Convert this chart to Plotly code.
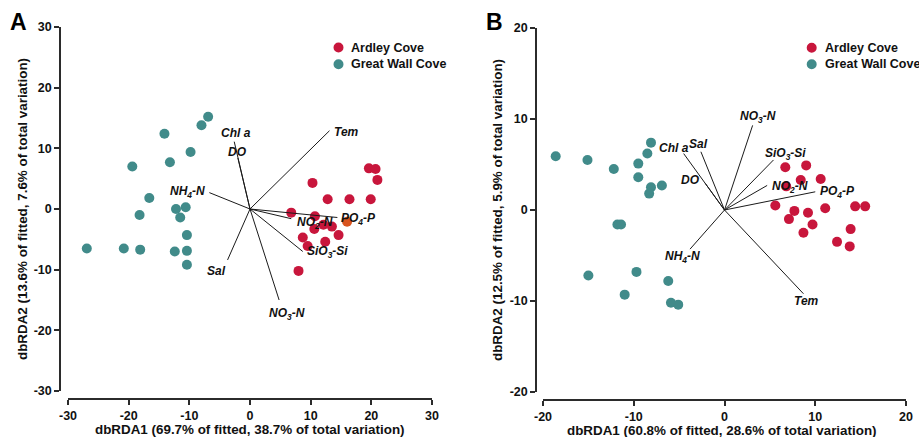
import plotly.graph_objects as go

W, H = 919, 437

# ---------------- data ----------------
series_names = ["Ardley Cove", "Great Wall Cove"]

# Panel A
a_ardley_x = [19.6, 20.7, 21.0, 10.3, 12.8, 16.4, 19.9, 6.8, 10.7, 10.6, 12.1, 13.5, 14.6, 8.7, 12.4, 9.5, 8.0]
a_ardley_y = [6.7, 6.6, 4.8, 4.3, 1.6, 1.6, 1.6, -0.6, -1.2, -3.3, -2.6, -2.9, -4.3, -4.7, -5.4, -6.1, -10.2]
a_extra_x = [16.0]
a_extra_y = [-2.1]
a_gw_x = [-6.9, -8.0, -14.1, -9.8, -13.2, -19.4, -16.6, -12.2, -10.6, -18.2, -11.5, -10.4, -26.9, -20.8, -18.1, -12.4, -10.4, -10.4]
a_gw_y = [15.2, 13.8, 12.4, 9.4, 7.7, 7.0, 1.8, 0.0, 0.3, -1.0, -1.4, -4.3, -6.5, -6.5, -6.7, -7.0, -6.9, -9.2]

a_vec_names = ["Tem", "Chl a", "DO", "NH<sub>4</sub>-N", "PO<sub>4</sub>-P", "NO<sub>2</sub>-N",
               "SiO<sub>3</sub>-Si", "Sal", "NO<sub>3</sub>-N"]
a_vec_x = [13.1, -2.6, -2.0, -6.7, 14.4, 6.8, 8.7, -3.7, 4.8]
a_vec_y = [12.9, 11.1, 8.4, 2.7, -1.4, -1.6, -7.0, -8.4, -15.0]

# Panel B
b_ardley_x = [6.7, 9.0, 8.4, 10.6, 6.8, 5.6, 7.7, 9.2, 11.1, 14.4, 15.5, 7.1, 9.7, 8.7, 13.9, 12.4, 13.8]
b_ardley_y = [4.7, 4.9, 3.3, 3.4, 2.6, 0.5, -0.1, -0.3, 0.2, 0.4, 0.4, -1.0, -1.6, -2.5, -2.1, -3.5, -4.0]
b_gw_x = [-18.6, -15.1, -12.2, -8.1, -8.5, -9.5, -9.5, -6.9, -8.1, -8.3, -11.8, -11.4, -15.0, -9.7, -11.0, -6.2, -5.9, -5.1]
b_gw_y = [5.9, 5.5, 4.5, 7.4, 6.2, 5.1, 3.6, 2.7, 2.5, 1.8, -1.6, -1.6, -7.2, -6.8, -9.3, -7.8, -10.2, -10.4]

b_vec_names = ["NO<sub>3</sub>-N", "Chl a", "Sal", "DO", "SiO<sub>3</sub>-Si", "NO<sub>2</sub>-N",
               "PO<sub>4</sub>-P", "NH<sub>4</sub>-N", "Tem"]
b_vec_x = [3.1, -4.5, -2.6, -2.1, 5.4, 4.7, 10.0, -3.8, 8.7]
b_vec_y = [9.3, 6.2, 6.4, 2.9, 5.5, 2.7, 2.0, -4.3, -9.2]

a_xtitle = "dbRDA1 (69.7% of fitted, 38.7% of total variation)"
a_ytitle = "dbRDA2 (13.6% of fitted, 7.6% of total variation)"
b_xtitle = "dbRDA1 (60.8% of fitted, 28.6% of total variation)"
b_ytitle = "dbRDA2 (12.5% of fitted, 5.9% of total variation)"
a_ticks = [-30, -20, -10, 0, 10, 20, 30]
a_ticklabels = ["-30", "-20", "-10", "0", "10", "20", "30"]
b_ticks = [-20, -10, 0, 10, 20]
b_ticklabels = ["-20", "-10", "0", "10", "20"]

# ---------------- styles ----------------
RED = "#C8163C"
TEAL = "#418B8A"
ORANGE = "#D9541E"
AX = "#2b2b2b"
FONT = "Arial, Liberation Sans, sans-serif"

# label placement (xanchor, xshift, yshift) for each vector label
a_lab = [("left", 3, -1), ("center", 2, 9), ("center", 0, 6), ("right", -2, 1), ("left", 2, -2),
         ("left", 4, -4), ("left", 2, -1), ("right", 0, -11), ("center", 8, -14)]
b_lab = [("center", 5, 8), ("center", -10, 6), ("center", -2, 8), ("right", -3, 4), ("center", 12, 6),
         ("left", 3, -2), ("left", 3, 0), ("center", -8, -8), ("center", 3, -7)]


def px(x):
    return x / W


def py(y):
    return 1 - y / H


fig = go.Figure()


def add_panel(xa, ya, gx, gy, rx, ry, vnames, vx, vy, labs, extra=None):
    fig.add_trace(go.Scatter(x=rx, y=ry, mode="markers", xaxis=xa, yaxis=ya, showlegend=False,
                             marker=dict(color=RED, size=10, line=dict(width=0))))
    if extra is not None:
        fig.add_trace(go.Scatter(x=extra[0], y=extra[1], mode="markers", xaxis=xa, yaxis=ya,
                                 showlegend=False, marker=dict(color=ORANGE, size=10, line=dict(width=0))))
    fig.add_trace(go.Scatter(x=gx, y=gy, mode="markers", xaxis=xa, yaxis=ya, showlegend=False,
                             marker=dict(color=TEAL, size=10, line=dict(width=0))))
    lx, ly = [], []
    for ex, ey in zip(vx, vy):
        lx += [0, ex, None]
        ly += [0, ey, None]
    fig.add_trace(go.Scatter(x=lx, y=ly, mode="lines", xaxis=xa, yaxis=ya, showlegend=False,
                             line=dict(color="#1a1a1a", width=1)))
    xr = "x" if xa == "x" else "x2"
    yr = "y" if ya == "y" else "y2"
    for name, ex, ey, (xan, xs, ys) in zip(vnames, vx, vy, labs):
        fig.add_annotation(x=ex, y=ey, xref=xr, yref=yr, text=name, showarrow=False,
                           xanchor=xan, yanchor="middle", xshift=xs, yshift=ys,
                           font=dict(family=FONT, size=12, color="#111", weight="bold", style="italic"))


add_panel("x", "y", a_gw_x, a_gw_y, a_ardley_x, a_ardley_y, a_vec_names, a_vec_x, a_vec_y, a_lab,
          extra=(a_extra_x, a_extra_y))
add_panel("x2", "y2", b_gw_x, b_gw_y, b_ardley_x, b_ardley_y, b_vec_names, b_vec_x, b_vec_y, b_lab)

tickfont = dict(family=FONT, size=12.5, color="#111", weight="bold")
common = dict(showgrid=False, zeroline=False, showline=True, linecolor=AX, linewidth=1.5,
              ticks="outside", ticklen=5, tickwidth=1.5, tickcolor=AX, tickfont=tickfont,
              automargin=False, anchor="free", tickmode="array")

fig.update_layout(
    width=W, height=H,
    margin=dict(l=0, r=0, t=0, b=0),
    paper_bgcolor="white", plot_bgcolor="white",
    showlegend=False,
    xaxis=dict(domain=[px(68), px(432)], range=[-30, 30], tickvals=a_ticks, ticktext=a_ticklabels,
               position=py(399), **common),
    yaxis=dict(domain=[py(391), py(27)], range=[-30, 30], tickvals=a_ticks, ticktext=a_ticklabels,
               position=px(60), **common),
    xaxis2=dict(domain=[px(543), px(906)], range=[-20, 20], tickvals=b_ticks, ticktext=b_ticklabels,
                position=py(400), **common),
    yaxis2=dict(domain=[py(392), py(28)], range=[-20, 20], tickvals=b_ticks, ticktext=b_ticklabels,
                position=px(536), **common),
)

titlefont = dict(family=FONT, size=13.4, color="#111", weight="bold")
for txt, x, y, ang in [(a_xtitle, 250, 429, 0), (a_ytitle, 22, 209, -90),
                       (b_xtitle, 722, 430, 0), (b_ytitle, 497, 210, -90)]:
    fig.add_annotation(x=px(x), y=py(y), xref="paper", yref="paper", text=txt, showarrow=False,
                       xanchor="center", yanchor="middle", textangle=ang, font=titlefont)

for txt, x, y in [("A", 18.5, 21.5), ("B", 494, 21.5)]:
    fig.add_annotation(x=px(x), y=py(y), xref="paper", yref="paper", text=txt, showarrow=False,
                       xanchor="center", yanchor="middle",
                       font=dict(family=FONT, size=23, color="#000", weight="bold"))

# manual legends
legfont = dict(family=FONT, size=12.5, color="#111", weight="bold")
for mx, tx, ys in [(338.5, 349, (47.5, 64.3)), (811.7, 823, (47.7, 64.3))]:
    for name, col, yy in zip(series_names, [RED, TEAL], ys):
        fig.add_shape(type="circle", xref="paper", yref="paper", xsizemode="pixel", ysizemode="pixel",
                      xanchor=px(mx), yanchor=py(yy), x0=-5, x1=5, y0=-5, y1=5,
                      fillcolor=col, line=dict(width=0))
        fig.add_annotation(x=px(tx), y=py(yy), xref="paper", yref="paper", text=name, showarrow=False,
                           xanchor="left", yanchor="middle", font=legfont)

fig.write_html("out.html")
